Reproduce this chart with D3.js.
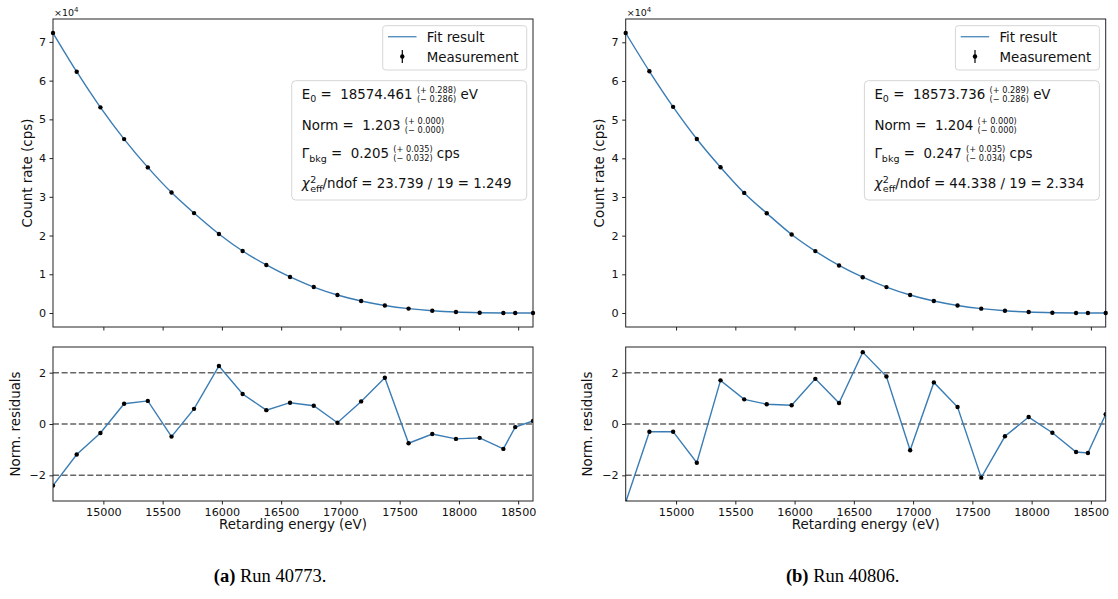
<!DOCTYPE html>
<html>
<head>
<meta charset="UTF-8">
<title></title>
<style type="text/css">
  body { margin: 0; background: #fff; }
  svg text { font-family: "DejaVu Sans", sans-serif; white-space: pre; }
</style>
</head>
<body>
<svg class="chart"></svg>
<script src="https://cdn.jsdelivr.net/npm/d3@7/dist/d3.min.js"></script>
<script type="text/javascript">
// retarding energies (eV), shared by both runs
var energies = [14575, 14775, 14975, 15175, 15375, 15575, 15765, 15975, 16175, 16375, 16575,
                16775, 16975, 17175, 17375, 17575, 17775, 17975, 18175, 18375, 18475, 18625];

// run 40773
var countsA = [72300, 62300, 53100, 44900, 37600, 31100, 25800, 20400, 16000, 12400, 9300,
               6700, 4650, 3100, 1950, 1130, 580, 240, 72, 9, 1.5, 0.2];
var residA = [-2.40, -1.19, -0.35, 0.79, 0.90, -0.49, 0.59, 2.26, 1.17, 0.54, 0.83,
              0.71, 0.05, 0.88, 1.80, -0.75, -0.39, -0.58, -0.54, -0.97, -0.12, 0.12];

// run 40806
var countsB = [72400, 62500, 53300, 45000, 37700, 31050, 25800, 20300, 16000, 12300, 9250,
               6700, 4650, 3100, 1950, 1130, 580, 240, 72, 9, 1.5, 0.2];
var residB = [-3.05, -0.30, -0.30, -1.51, 1.70, 0.96, 0.77, 0.73, 1.76, 0.82, 2.80,
              1.85, -1.02, 1.62, 0.66, -2.09, -0.48, 0.27, -0.34, -1.09, -1.13, 0.38];

var xTicks = [15000, 15500, 16000, 16500, 17000, 17500, 18000, 18500];
var yTicks = [0, 10000, 20000, 30000, 40000, 50000, 60000, 70000];
var rTicks = [-2, 0, 2];

var fitA = [["E", "0", " =  18574.461 ", "(+ 0.288)", "(\u2212 0.286)", " eV"],
            ["Norm =  1.203 ", "(+ 0.000)", "(\u2212 0.000)"],
            ["\u0393", "bkg", " =  0.205 ", "(+ 0.035)", "(\u2212 0.032)", " cps"],
            ["23.739 / 19 = 1.249"]];
var fitB = [["E", "0", " =  18573.736 ", "(+ 0.289)", "(\u2212 0.286)", " eV"],
            ["Norm =  1.204 ", "(+ 0.000)", "(\u2212 0.000)"],
            ["\u0393", "bkg", " =  0.247 ", "(+ 0.035)", "(\u2212 0.034)", " cps"],
            ["44.338 / 19 = 2.334"]];

var W = 1118, H = 599;
var svg = d3.select(".chart").attr("width", W).attr("height", H);
svg.append("rect").attr("width", W).attr("height", H).attr("fill", "#fff");

var blue = "#3a7cb4";
var tickFont = 11.2, labFont = 13.4;

// helper: write pieces of text one after another, returns end x
function piece(g, x, y, txt, size, opts) {
  opts = opts || {};
  var t = g.append("text").attr("x", x).attr("y", y)
    .attr("font-size", size).attr("fill", "#111").attr("xml:space", "preserve").text(txt);
  if (opts.italic) t.attr("font-style", "italic");
  if (opts.anchor) t.attr("text-anchor", opts.anchor);
  return x + t.node().getComputedTextLength();
}

function stack(g, x, y, top, bot) {
  var w1 = piece(g, x, y - 6.5, top, 8.2) - x;
  var w2 = piece(g, x, y + 2.8, bot, 8.2) - x;
  return x + Math.max(w1, w2);
}

function panel(ox, counts, resid, fit, caption) {
  var L = ox + 53, R = ox + 533;
  var x = d3.scaleLinear().domain([d3.min(energies), d3.max(energies)]).range([L, R]);

  var cmax = d3.max(counts), cmin = d3.min(counts), m = (cmax - cmin) * 0.05;
  var y = d3.scaleLinear().domain([cmin - m, cmax + m]).range([327, 19]);
  var yr = d3.scaleLinear().domain([-3, 3]).range([501, 347]);

  var g = svg.append("g");

  // ---- top panel ----
  var gx = g.append("g").attr("transform", "translate(0,327)")
    .call(d3.axisBottom(x).tickValues(xTicks).tickSize(3.5).tickFormat(""));
  var gy = g.append("g").attr("transform", "translate(" + L + ",0)")
    .call(d3.axisLeft(y).tickValues(yTicks).tickSize(3.5).tickPadding(3.5)
      .tickFormat(function(d) { return d / 10000; }));
  gy.selectAll("text").attr("font-size", tickFont).attr("font-family", "DejaVu Sans").attr("fill", "#111");

  g.append("rect").attr("x", L).attr("y", 19).attr("width", R - L).attr("height", 308)
    .attr("fill", "none").attr("stroke", "#222").attr("stroke-width", 1);

  var clipId = "clip" + ox.toFixed(0);
  g.append("clipPath").attr("id", clipId).append("rect")
    .attr("x", L).attr("y", 347).attr("width", R - L).attr("height", 154);

  var line = d3.line().x(function(d, i) { return x(energies[i]); })
    .y(function(d) { return y(d); }).curve(d3.curveMonotoneX);
  g.append("path").datum(counts).attr("d", line)
    .attr("fill", "none").attr("stroke", blue).attr("stroke-width", 1.4);
  g.selectAll(".pt").data(counts).enter().append("circle")
    .attr("cx", function(d, i) { return x(energies[i]); })
    .attr("cy", function(d) { return y(d); })
    .attr("r", 2.2).attr("fill", "#000");

  // x10^4
  var t4 = g.append("text").attr("x", L + 1).attr("y", 16).attr("font-size", 9.5).attr("fill", "#111");
  t4.append("tspan").text("\u00d710");
  t4.append("tspan").attr("dy", -4).attr("font-size", 7).text("4");

  g.append("text").attr("transform", "translate(" + (ox + 27) + ",173) rotate(-90)")
    .attr("text-anchor", "middle").attr("dy", "0.35em").attr("font-size", labFont)
    .attr("fill", "#111").text("Count rate (cps)");

  // legend
  var lg = g.append("g");
  lg.append("rect").attr("x", R - 150.3).attr("y", 25.7).attr("width", 144).attr("height", 44.3)
    .attr("rx", 3).attr("fill", "#fff").attr("fill-opacity", 0.8)
    .attr("stroke", "#d6d6d6").attr("stroke-width", 1);
  lg.append("line").attr("x1", R - 145).attr("x2", R - 116.5).attr("y1", 36.7).attr("y2", 36.7)
    .attr("stroke", blue).attr("stroke-width", 1.4).attr("stroke-opacity", 0.85);
  lg.append("line").attr("x1", R - 130.7).attr("x2", R - 130.7).attr("y1", 50).attr("y2", 63)
    .attr("stroke", "#000").attr("stroke-width", 1.2);
  lg.append("circle").attr("cx", R - 130.7).attr("cy", 56.5).attr("r", 2.2).attr("fill", "#000");
  piece(lg, R - 106.3, 41.7, "Fit result", labFont);
  piece(lg, R - 106.3, 61.7, "Measurement", labFont);

  // fit results box
  var fb = g.append("g");
  fb.append("rect").attr("x", R - 241.3).attr("y", 80.7).attr("width", 235).attr("height", 119.3)
    .attr("rx", 4).attr("fill", "#fff").attr("fill-opacity", 0.8)
    .attr("stroke", "#d6d6d6").attr("stroke-width", 1);
  var tx = R - 231.3, cx;
  cx = piece(fb, tx, 99, fit[0][0], labFont);
  cx = piece(fb, cx, 102, fit[0][1], 9.5);
  cx = piece(fb, cx, 99, fit[0][2], labFont);
  cx = stack(fb, cx, 99, fit[0][3], fit[0][4]);
  piece(fb, cx, 99, fit[0][5], labFont);

  cx = piece(fb, tx, 130, fit[1][0], labFont);
  stack(fb, cx, 130, fit[1][1], fit[1][2]);

  cx = piece(fb, tx, 158.3, fit[2][0], labFont);
  cx = piece(fb, cx, 161.5, fit[2][1], 9.5);
  cx = piece(fb, cx, 158.3, fit[2][2], labFont);
  cx = stack(fb, cx, 158.3, fit[2][3], fit[2][4]);
  piece(fb, cx, 158.3, fit[2][5], labFont);

  var c0 = piece(fb, tx, 188.3, "\u03c7", labFont, { italic: true });
  piece(fb, c0 + 0.5, 182.5, "2", 9.5);
  cx = piece(fb, c0 + 0.5, 191.5, "eff", 9.5);
  cx = piece(fb, cx, 188.3, "/ndof = ", labFont);
  piece(fb, cx, 188.3, fit[3][0], labFont);

  // ---- residual panel ----
  var rx = g.append("g").attr("transform", "translate(0,501)")
    .call(d3.axisBottom(x).tickValues(xTicks).tickSize(3.5).tickPadding(3.5).tickFormat(d3.format("d")));
  rx.selectAll("text").attr("font-size", tickFont).attr("font-family", "DejaVu Sans").attr("fill", "#111");
  var ry = g.append("g").attr("transform", "translate(" + L + ",0)")
    .call(d3.axisLeft(yr).tickValues(rTicks).tickSize(3.5).tickPadding(3.5)
      .tickFormat(function(d) { return d < 0 ? "\u2212" + (-d) : d; }));
  ry.selectAll("text").attr("font-size", tickFont).attr("font-family", "DejaVu Sans").attr("fill", "#111");
  [gx, gy, rx, ry].forEach(function(a) {
    a.select(".domain").remove();
    a.selectAll("line").attr("stroke", "#222");
  });

  g.selectAll(".hl").data(rTicks).enter().append("line")
    .attr("x1", L).attr("x2", R)
    .attr("y1", function(d) { return yr(d); }).attr("y2", function(d) { return yr(d); })
    .attr("stroke", "#666").attr("stroke-width", 1.5).attr("stroke-dasharray", "6,2.6");

  var rline = d3.line().x(function(d, i) { return x(energies[i]); }).y(function(d) { return yr(d); });
  g.append("path").datum(resid).attr("d", rline).attr("clip-path", "url(#" + clipId + ")")
    .attr("fill", "none").attr("stroke", blue).attr("stroke-width", 1.4);
  g.append("g").attr("clip-path", "url(#" + clipId + ")")
    .selectAll("circle").data(resid).enter().append("circle")
    .attr("cx", function(d, i) { return x(energies[i]); })
    .attr("cy", function(d) { return yr(d); })
    .attr("r", 2.2).attr("fill", "#000");

  g.append("rect").attr("x", L).attr("y", 347).attr("width", R - L).attr("height", 154)
    .attr("fill", "none").attr("stroke", "#222").attr("stroke-width", 1);

  g.append("text").attr("transform", "translate(" + (ox + 15) + ",424) rotate(-90)")
    .attr("text-anchor", "middle").attr("dy", "0.35em").attr("font-size", labFont)
    .attr("fill", "#111").text("Norm. residuals");
  g.append("text").attr("x", (L + R) / 2).attr("y", 529).attr("text-anchor", "middle")
    .attr("font-size", labFont).attr("fill", "#111").text("Retarding energy (eV)");

  // caption
  var cap = g.append("text").attr("x", ox + 270).attr("y", 582).attr("text-anchor", "middle")
    .attr("font-size", 18.5).attr("fill", "#000")
    .style("font-family", "'Liberation Serif', 'DejaVu Serif', serif");
  cap.append("tspan").attr("font-weight", "bold").text(caption[0]);
  cap.append("tspan").text(" " + caption[1]);
}

panel(0, countsA, residA, fitA, ["(a)", "Run 40773."]);
panel(572.7, countsB, residB, fitB, ["(b)", "Run 40806."]);
</script>
</body>
</html>
